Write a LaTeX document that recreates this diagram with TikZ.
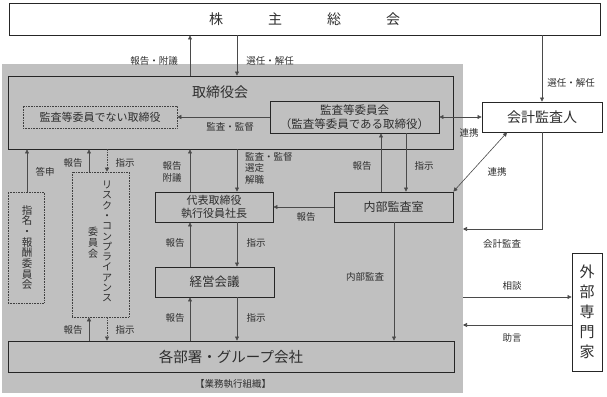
\documentclass[tikz,border=0pt]{standalone}
\usepackage{fontspec}
\setmainfont{Noto Sans CJK JP}
\usetikzlibrary{arrows.meta}

\definecolor{bggray}{HTML}{C0C0C0}
\definecolor{linegray}{HTML}{4A4A4A}
\definecolor{textgray}{HTML}{2E2E2E}

\tikzset{
    box/.style={draw=black!85, line width=0.9pt, inner sep=0pt, text=textgray},
    dotbox/.style={draw=black!75, line width=0.6pt, densely dotted, inner sep=0pt, text=textgray},
    arr/.style={draw=linegray, line width=0.6pt, -{Triangle[length=4pt,width=4pt]}},
    arrboth/.style={draw=linegray, line width=0.6pt, {Triangle[length=4pt,width=4pt]}-{Triangle[length=4pt,width=4pt]}},
    arrdash/.style={arr, dash pattern=on 1.5pt off 1pt},
    lbl/.style={text=textgray, font=\fontsize{9.5}{11.5}\selectfont, inner sep=0pt},
}

\begin{document}
\begin{tikzpicture}[x=1pt, y=-1pt]
    \useasboundingbox (0,0) rectangle (607,396);

    % Executive area in the back
    \node[fill=bggray, minimum width=461pt, minimum height=329pt, inner sep=0pt] (exec) at (232.5,228.5) {};

    % Define the columns of the arrows
    \coordinate (cUp) at (190,0);
    \coordinate (cDown) at (237,0);
    \coordinate (cNom) at (27,0);
    \coordinate (cRkUp) at (89,0);
    \coordinate (cRkDn) at (107,0);
    \coordinate (cIaUp) at (381,0);
    \coordinate (cIaDn) at (406,0);
    \coordinate (cIaAud) at (394,0);
    \coordinate (cLink) at (507,0);
    \coordinate (acct) at (463,229);
    \coordinate (consult) at (463,297);
    \coordinate (advice) at (463,325);

    % Boxes
    \node[box, fill=white, minimum width=591pt, minimum height=32pt, font=\fontsize{14}{14}\selectfont] (gms) at (304.5,19)
        {株\hspace{45pt}主\hspace{45pt}総\hspace{45pt}会};
    \node[box, minimum width=445pt, minimum height=73pt] (board) at (230.5,112.5) {};
    \node[text=textgray, font=\fontsize{14}{14}\selectfont, inner sep=0pt] (boardT) at (220,92) {取締役会};
    \node[dotbox, minimum width=154pt, minimum height=22pt, font=\fontsize{11}{11}\selectfont] (nonaudit) at (100,117) {監査等委員でない取締役};
    \node[box, minimum width=169pt, minimum height=32pt, align=center, font=\fontsize{11.5}{14}\selectfont] (acm) at (354.5,117)
        {監査等委員会\\（監査等委員である取締役）};
    \node[box, fill=white, minimum width=120pt, minimum height=30pt, font=\fontsize{14}{14}\selectfont] (auditor) at (542,117) {会計監査人};
    \node[dotbox, minimum width=36pt, minimum height=111pt] (nomcom) at (26,247.5) {};
    \node[text=textgray, align=center, inner sep=0pt, font=\fontsize{10.5}{10.7}\selectfont] (nomcomT) at (27,247.5)
        {指\\名\\・\\報\\酬\\委\\員\\会};
    \node[dotbox, minimum width=57pt, minimum height=145pt] (riskcom) at (100.5,244.5) {};
    \node[text=textgray, align=center, inner sep=0pt, font=\fontsize{10}{10.3}\selectfont] (riskcomA) at (107,241.5)
        {リ\\ス\\ク\\・\\コ\\ン\\プ\\ラ\\イ\\ア\\ン\\ス};
    \node[text=textgray, align=center, inner sep=0pt, font=\fontsize{10}{11}\selectfont] (riskcomB) at (93,243)
        {委\\員\\会};
    \node[box, minimum width=118pt, minimum height=30pt, align=center, font=\fontsize{11}{13}\selectfont] (ceo) at (214,207)
        {代表取締役\\執行役員社長};
    \node[box, minimum width=119pt, minimum height=30pt, font=\fontsize{12}{12}\selectfont] (ia) at (393.5,207) {内部監査室};
    \node[box, minimum width=119pt, minimum height=30pt, font=\fontsize{12.5}{12.5}\selectfont] (mgmt) at (214.5,282) {経営会議};
    \node[box, minimum width=446pt, minimum height=31pt, font=\fontsize{14.5}{14.5}\selectfont] (depts) at (231,356.5) {各部署・グループ会社};
    \node[box, fill=white, minimum width=30pt, minimum height=118pt, align=center, font=\fontsize{15}{20}\selectfont] (experts) at (587,312)
        {外\\部\\専\\門\\家};
    \node[lbl] (execT) at (233,384) {【業務執行組織】};

    % Shareholders meeting
    \draw[arr] (board.north -| cUp) -- (gms.south -| cUp);
    \draw[arr] (gms.south -| cDown) -- (board.north -| cDown);
    \draw[arr] (gms.south -| auditor.north) -- (auditor.north);
    \node[lbl] (l1) at (154,61) {報告・附議};
    \node[lbl] (l2) at (270,61) {選任・解任};
    \node[lbl] (l3) at (571,83) {選任・解任};

    % Audit committee and accounting auditor
    \draw[arr] (acm.west) -- (nonaudit.east);
    \node[lbl] (l4) at (230,127) {監査・監督};
    \draw[arrboth] (acm.east) -- (auditor.west);
    \node[lbl] (l5) at (469,133) {連携};
    \draw[arrboth] (ia.north east) -- (auditor.south -| cLink);
    \node[lbl] (l6) at (497,172) {連携};
    \draw[arr] (auditor.south) |- (acct);
    \node[lbl] (l7) at (502,244) {会計監査};

    % External experts
    \draw[arr] (consult) -- (experts.west |- consult);
    \draw[arr] (experts.west |- advice) -- (advice);
    \node[lbl] (l8) at (512,286) {相談};
    \node[lbl] (l9) at (512,338) {助言};

    % Committees on the left
    \draw[arr] (nomcom.north -| cNom) -- (board.south -| cNom);
    \node[lbl] (l10) at (45,172) {答申};
    \draw[arr] (riskcom.north -| cRkUp) -- (board.south -| cRkUp);
    \draw[arrdash] (board.south -| cRkDn) -- (riskcom.north -| cRkDn);
    \node[lbl] (l11) at (73,163) {報告};
    \node[lbl] (l12) at (125,163) {指示};
    \draw[arr] (depts.north -| cRkUp) -- (riskcom.south -| cRkUp);
    \draw[arrdash] (riskcom.south -| cRkDn) -- (depts.north -| cRkDn);
    \node[lbl] (l13) at (73,330) {報告};
    \node[lbl] (l14) at (125,330) {指示};

    % Chain of execution
    \draw[arr] (ceo.north -| cUp) -- (board.south -| cUp);
    \draw[arr] (board.south -| cDown) -- (ceo.north -| cDown);
    \node[lbl, align=center] (l15) at (172,172) {報告\\附議};
    \node[lbl, align=left, anchor=north west] (l16) at (245,152) {監査・監督\\選定\\解職};
    \draw[arr] (mgmt.north -| cUp) -- (ceo.south -| cUp);
    \draw[arr] (ceo.south -| cDown) -- (mgmt.north -| cDown);
    \node[lbl] (l17) at (175,243) {報告};
    \node[lbl] (l18) at (256,243) {指示};
    \draw[arr] (depts.north -| cUp) -- (mgmt.south -| cUp);
    \draw[arr] (mgmt.south -| cDown) -- (depts.north -| cDown);
    \node[lbl] (l19) at (175,318) {報告};
    \node[lbl] (l20) at (256,318) {指示};

    % Internal audit office
    \draw[arr] (ia.west) -- (ceo.east);
    \node[lbl] (l21) at (306,217) {報告};
    \draw[arr] (ia.north -| cIaUp) -- (acm.south -| cIaUp);
    \draw[arr] (acm.south -| cIaDn) -- (ia.north -| cIaDn);
    \node[lbl] (l22) at (362,166) {報告};
    \node[lbl] (l23) at (424,166) {指示};
    \draw[arr] (ia.south -| cIaAud) -- (depts.north -| cIaAud);
    \node[lbl] (l24) at (365,277) {内部監査};
\end{tikzpicture}
\end{document}
